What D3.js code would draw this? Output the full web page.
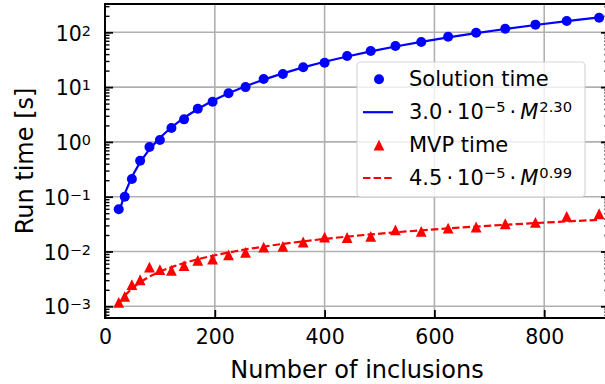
<!DOCTYPE html>
<html>
<head>
<meta charset="utf-8">
<script src="https://cdn.jsdelivr.net/npm/d3@7"></script>
<style>
  body { margin: 0; background: #fff; }
  svg { display: block; font-family: "DejaVu Sans", sans-serif; }
</style>
</head>
<body>
<div id="chart"></div>
<script>
// number of inclusions M
const inclusions = [25, 36, 49, 64, 81, 100, 121, 144, 169, 196, 225, 256, 289,
    324, 361, 400, 441, 484, 529, 576, 625, 676, 729, 784, 841, 900];

// measured run times [s]
const solutionTime = [0.059, 0.100, 0.210, 0.452, 0.807, 1.08, 1.79, 2.58, 4.03,
    5.41, 7.71, 10.0, 14.1, 17.3, 23.0, 27.9, 36.9, 45.6, 56.2, 66.5, 83.1, 98.3,
    116, 138, 161, 185];
const mvpTime = [0.00118, 0.00152, 0.00248, 0.00305, 0.0052, 0.00465, 0.00452,
    0.0055, 0.0069, 0.0073, 0.0087, 0.0096, 0.0120, 0.0124, 0.0149, 0.0183,
    0.0180, 0.0188, 0.0249, 0.0233, 0.0268, 0.0280, 0.0321, 0.0340, 0.0436, 0.0488];

// fitted curves
const solutionFit = [0.0493, 0.114, 0.231, 0.428, 0.735, 1.19, 1.85, 2.76, 3.99,
    5.62, 7.71, 10.4, 13.7, 17.8, 22.9, 29.0, 36.2, 44.9, 55.1, 67.0, 80.8, 96.8,
    115, 136, 160, 187];
const mvpFit = [0.00109, 0.00156, 0.00212, 0.00276, 0.00349, 0.00430, 0.00519,
    0.00617, 0.00723, 0.00837, 0.00959, 0.0109, 0.0123, 0.0138, 0.0153, 0.0170,
    0.0187, 0.0205, 0.0224, 0.0243, 0.0264, 0.0285, 0.0307, 0.0330, 0.0354, 0.0378];

const xTicks = [0, 200, 400, 600, 800];
const yDecades = [-3, -2, -1, 0, 1, 2];

const legendItems = [
    {label: "Solution time", kind: "circle", color: "#0000ff"},
    {label: ["3.0", "10", "\u22125", "M", "2.30"], kind: "solid", color: "#0000ff"},
    {label: "MVP time", kind: "triangle", color: "#ff0000"},
    {label: ["4.5", "10", "\u22125", "M", "0.99"], kind: "dashed", color: "#ff0000"}
];

const W = 605, H = 384;
const plot = {left: 105, right: 609, top: 4, bottom: 318};

const svg = d3.select("#chart").append("svg")
    .attr("width", W)
    .attr("height", H);

const x = d3.scaleLinear().domain([0, 918]).range([plot.left, plot.right]);
const y = d3.scaleLog().domain([6.115e-4, 328.5]).range([plot.bottom, plot.top]);

const majorY = yDecades.map(e => Math.pow(10, e));
let minorY = [];
for (let e = -4; e <= 2; e++) {
    for (let k = 2; k <= 9; k++) {
        const v = k * Math.pow(10, e);
        if (v > y.domain()[0] && v < y.domain()[1]) minorY.push(v);
    }
}

// grid
const grid = svg.append("g").attr("stroke", "#b0b0b0").attr("stroke-width", 1.6);
grid.selectAll("line.gx").data(xTicks.slice(1)).enter().append("line")
    .attr("x1", d => x(d)).attr("x2", d => x(d))
    .attr("y1", plot.top).attr("y2", plot.bottom);
grid.selectAll("line.gy").data(majorY).enter().append("line")
    .attr("x1", plot.left).attr("x2", plot.right)
    .attr("y1", d => y(d)).attr("y2", d => y(d));

// fit lines
const line = d3.line()
    .x((d, i) => x(inclusions[i]))
    .y(d => y(d));

svg.append("path")
    .datum(solutionFit)
    .attr("fill", "none")
    .attr("stroke", "#0000ff")
    .attr("stroke-width", 2.2)
    .attr("d", line);

svg.append("path")
    .datum(mvpFit)
    .attr("fill", "none")
    .attr("stroke", "#ff0000")
    .attr("stroke-width", 2.2)
    .attr("stroke-dasharray", "7.4,3.2")
    .attr("d", line);

// markers
const triPath = s => `M0,${-s}L${s},${s}L${-s},${s}Z`;

svg.append("g").selectAll("circle")
    .data(solutionTime).enter().append("circle")
    .attr("cx", (d, i) => x(inclusions[i]))
    .attr("cy", d => y(d))
    .attr("r", 5)
    .attr("fill", "#0000ff");

svg.append("g").selectAll("path")
    .data(mvpTime).enter().append("path")
    .attr("transform", (d, i) => `translate(${x(inclusions[i])},${y(d)})`)
    .attr("d", triPath(5.4))
    .attr("fill", "#ff0000");

// axes (ticks pointing inward)
function styleAxis(g) {
    g.select(".domain").remove();
    g.selectAll(".tick line").attr("stroke", "#000").attr("stroke-width", 1.8);
}

const xAxis = svg.append("g")
    .attr("transform", `translate(0,${plot.bottom})`)
    .call(d3.axisBottom(x).tickValues(xTicks).tickSize(-8).tickPadding(10));
styleAxis(xAxis);
xAxis.selectAll(".tick text")
    .attr("font-size", "20.5px")
    .attr("font-family", "DejaVu Sans")
    .attr("fill", "#000")
    .attr("dy", null)
    .attr("y", 25.5);

const yAxis = svg.append("g")
    .attr("transform", `translate(${plot.left},0)`)
    .call(d3.axisLeft(y).tickValues(majorY).tickSize(-8).tickFormat(() => ""));
styleAxis(yAxis);
yAxis.selectAll(".tick text").each(function(d) {
    const t = d3.select(this)
        .attr("x", -14)
        .attr("dy", null)
        .attr("y", 7.7)
        .attr("font-size", "20.5px")
        .attr("font-family", "DejaVu Sans")
        .attr("fill", "#000")
        .attr("text-anchor", "end");
    t.append("tspan").text("10");
    t.append("tspan")
        .attr("font-size", "14.4px")
        .attr("dy", -5)
        .text(String(Math.round(Math.log10(d))).replace("-", "\u2212"));
});

const yMinor = svg.append("g")
    .attr("transform", `translate(${plot.left},0)`)
    .call(d3.axisLeft(y).tickValues(minorY).tickSize(-4.5).tickFormat(""));
styleAxis(yMinor);
yMinor.selectAll(".tick line").attr("stroke-width", 1.4);

const yRight = svg.append("g")
    .attr("transform", `translate(${plot.right},0)`)
    .call(d3.axisRight(y).tickValues(majorY).tickSize(-8).tickFormat(""));
styleAxis(yRight);
const yRightMinor = svg.append("g")
    .attr("transform", `translate(${plot.right},0)`)
    .call(d3.axisRight(y).tickValues(minorY).tickSize(-4.5).tickFormat(""));
styleAxis(yRightMinor);

// frame
svg.append("rect")
    .attr("x", plot.left).attr("y", plot.top)
    .attr("width", plot.right - plot.left)
    .attr("height", plot.bottom - plot.top)
    .attr("fill", "none")
    .attr("stroke", "#000")
    .attr("stroke-width", 2);

// axis labels
svg.append("text")
    .attr("x", (plot.left + plot.right) / 2)
    .attr("y", 377.5)
    .attr("text-anchor", "middle")
    .attr("font-size", "24px")
    .text("Number of inclusions");

svg.append("text")
    .attr("transform", `translate(33,${(plot.top + plot.bottom) / 2}) rotate(-90)`)
    .attr("text-anchor", "middle")
    .attr("font-size", "24px")
    .text("Run time [s]");

// legend
const legend = svg.append("g");
legend.append("rect")
    .attr("x", 357).attr("y", 62)
    .attr("width", 228).attr("height", 135)
    .attr("rx", 4)
    .attr("fill", "#fff").attr("fill-opacity", 0.8)
    .attr("stroke", "#cccccc").attr("stroke-opacity", 0.8)
    .attr("stroke-width", 1.2);

legendItems.forEach((item, i) => {
    const cy = 79.3 + i * 32.9;
    const g = legend.append("g");
    if (item.kind === "circle") {
        g.append("circle").attr("cx", 379).attr("cy", cy).attr("r", 5).attr("fill", item.color);
    } else if (item.kind === "triangle") {
        g.append("path").attr("transform", `translate(379,${cy})`)
            .attr("d", triPath(5.4)).attr("fill", item.color);
    } else {
        g.append("line")
            .attr("x1", 363).attr("x2", 393)
            .attr("y1", cy).attr("y2", cy)
            .attr("stroke", item.color)
            .attr("stroke-width", 2.2)
            .attr("stroke-dasharray", item.kind === "dashed" ? "7.4,3.2" : null);
    }
    const t = g.append("text")
        .attr("x", 409)
        .attr("y", cy + 6.8)
        .attr("font-size", "21px");
    if (typeof item.label === "string") {
        t.text(item.label);
    } else {
        const [coef, base, expo, sym, pow] = item.label;
        t.append("tspan").text(coef);
        t.append("tspan").attr("dx", 4).text("\u00b7");
        t.append("tspan").attr("dx", 4).text(base);
        t.append("tspan").attr("font-size", "14.7px").attr("dy", -7).text(expo);
        t.append("tspan").attr("dx", 4).attr("dy", 7).text("\u00b7");
        t.append("tspan").attr("dx", 4).attr("font-style", "italic").text(sym);
        t.append("tspan").attr("font-size", "14.7px").attr("dy", -7).attr("dx", 1).text(pow);
    }
});
</script>
</body>
</html>
